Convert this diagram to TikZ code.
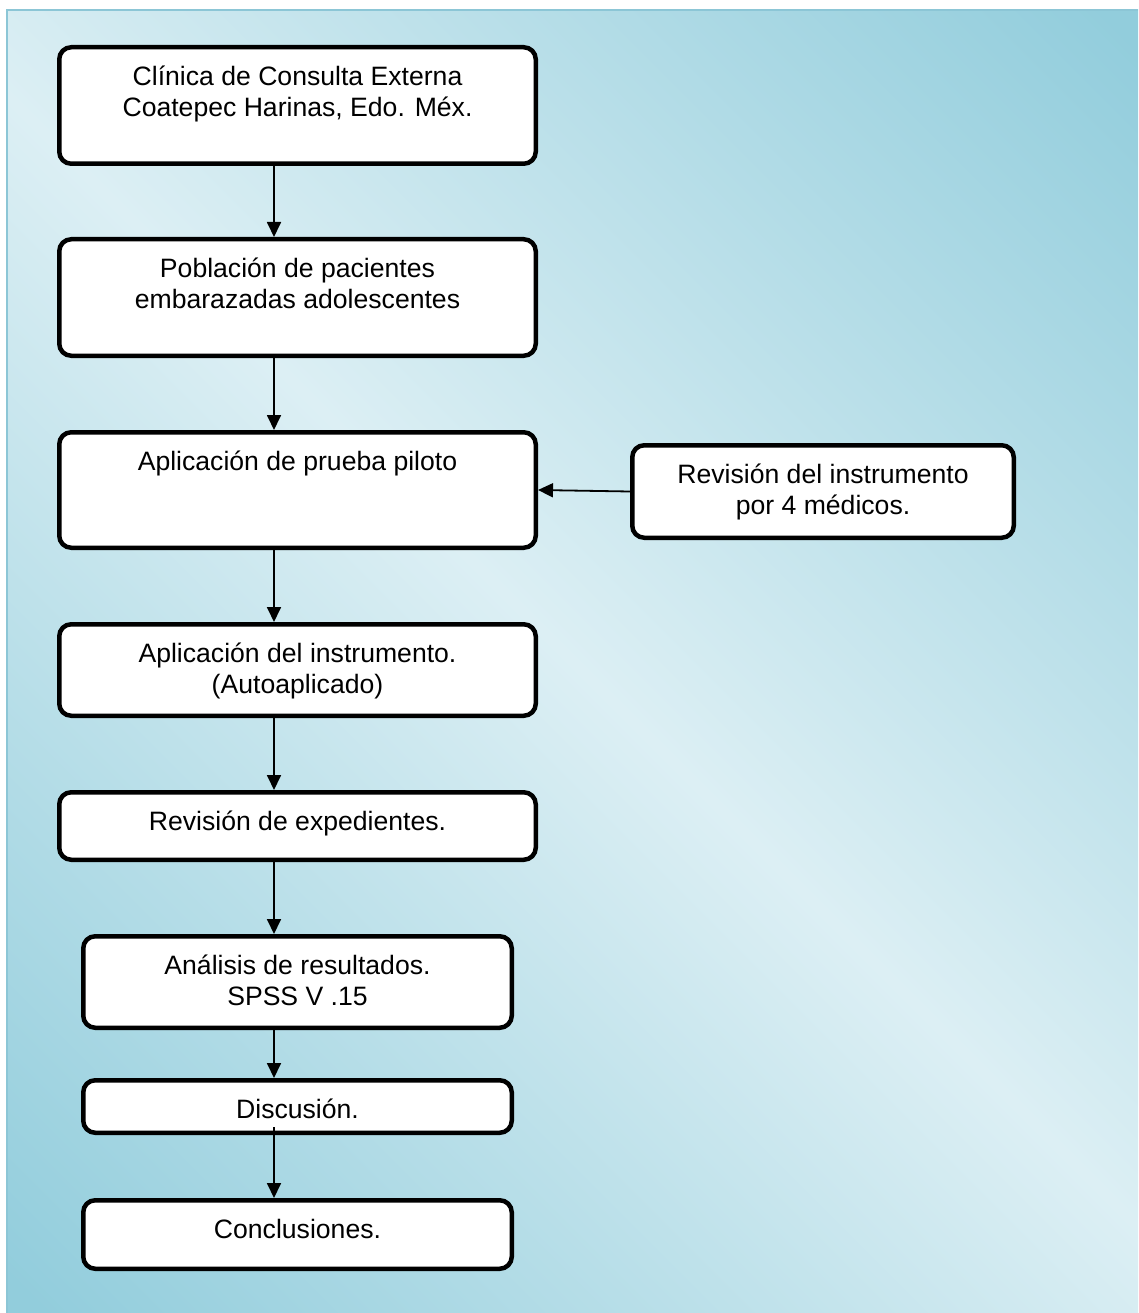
\documentclass[tikz,border=0pt]{standalone}
\usepackage{fontspec}
\setmainfont{Liberation Sans}
\usetikzlibrary{arrows.meta,calc}
\definecolor{aquadark}{RGB}{146,205,220}
\definecolor{aqualight}{RGB}{220,239,244}
\definecolor{frameblue}{RGB}{140,198,214}
\pgfdeclareverticalshading{bgshade}{100bp}{color(0bp)=(aquadark); color(15.5bp)=(aquadark); color(50bp)=(aqualight); color(84.5bp)=(aquadark); color(100bp)=(aquadark)}
\begin{document}
\begin{tikzpicture}[x=1pt,y=-1pt,
  box/.style={draw=black, line width=4.5pt, rounded corners=12pt, fill=white, inner sep=0pt},
  lbl/.style={font=\fontsize{26.6}{31}\selectfont, align=center, inner sep=0pt, anchor=north},
  conn/.style={line width=1.8pt, -{Triangle[length=15pt,width=14pt]}}]
\useasboundingbox (0,0) rectangle (1138,1313);
\fill[white] (0,0) rectangle (1138,1313);
\shade[shading=bgshade, shading angle=-45] (7,10) rectangle (1138,1313);
\draw[frameblue, line width=1.5pt] (1138,10) -- (7,10) -- (7,1313);

% boxes
\node[box, minimum width=476.5pt, minimum height=116.5pt] (b1) at (297.5,105.5) {};
\node[box, minimum width=476.5pt, minimum height=116.5pt] (b2) at (297.5,297.5) {};
\node[box, minimum width=476.5pt, minimum height=115.5pt] (b3) at (297.5,490) {};
\node[box, minimum width=381.5pt, minimum height=92.5pt] (s) at (823,491.5) {};
\node[box, minimum width=476.5pt, minimum height=91.5pt] (b4) at (297.5,670) {};
\node[box, minimum width=476.5pt, minimum height=67.5pt] (b5) at (297.5,826) {};
\node[box, minimum width=428.5pt, minimum height=91.5pt] (b6) at (297.5,982) {};
\node[box, minimum width=428.5pt, minimum height=52.5pt] (b7) at (297.5,1106.5) {};
\node[box, minimum width=428.5pt, minimum height=68.5pt] (b8) at (297.5,1234.5) {};

% texts
\node[lbl] (t1) at ($(b1.north)+(0,18.3)$) {\strut Clínica de Consulta Externa\\\strut Coatepec Harinas, Edo. Méx.};
\node[lbl] (t2) at ($(b2.north)+(0,18.3)$) {\strut Población de pacientes\\\strut embarazadas adolescentes};
\node[lbl] (t3) at ($(b3.north)+(0,18.3)$) {\strut Aplicación de prueba piloto};
\node[lbl] (ts) at ($(s.north)+(0,18.3)$) {\strut Revisión del instrumento\\\strut por 4 médicos.};
\node[lbl] (t4) at ($(b4.north)+(0,18.3)$) {\strut Aplicación del instrumento.\\\strut (Autoaplicado)};
\node[lbl] (t5) at ($(b5.north)+(0,18.3)$) {\strut Revisión de expedientes.};
\node[lbl] (t6) at ($(b6.north)+(0,18.3)$) {\strut Análisis de resultados.\\\strut SPSS V .15};
\node[lbl] (t7) at ($(b7.north)+(0,18.3)$) {\strut Discusión.};
\node[lbl] (t8) at ($(b8.north)+(0,18.3)$) {\strut Conclusiones.};

% connectors
\coordinate (ax) at (274,0);
\coordinate (dstart) at (274,1127);
\draw[conn] (b1.south -| ax) -- (b2.north -| ax);
\draw[conn] (b2.south -| ax) -- (b3.north -| ax);
\draw[conn] (b3.south -| ax) -- (b4.north -| ax);
\draw[conn] (b4.south -| ax) -- (b5.north -| ax);
\draw[conn] (b5.south -| ax) -- (b6.north -| ax);
\draw[conn] (b6.south -| ax) -- (b7.north -| ax);
\draw[conn] (dstart) -- (b8.north -| ax);
\draw[conn] (s.west) -- (b3.east);
\end{tikzpicture}
\end{document}
